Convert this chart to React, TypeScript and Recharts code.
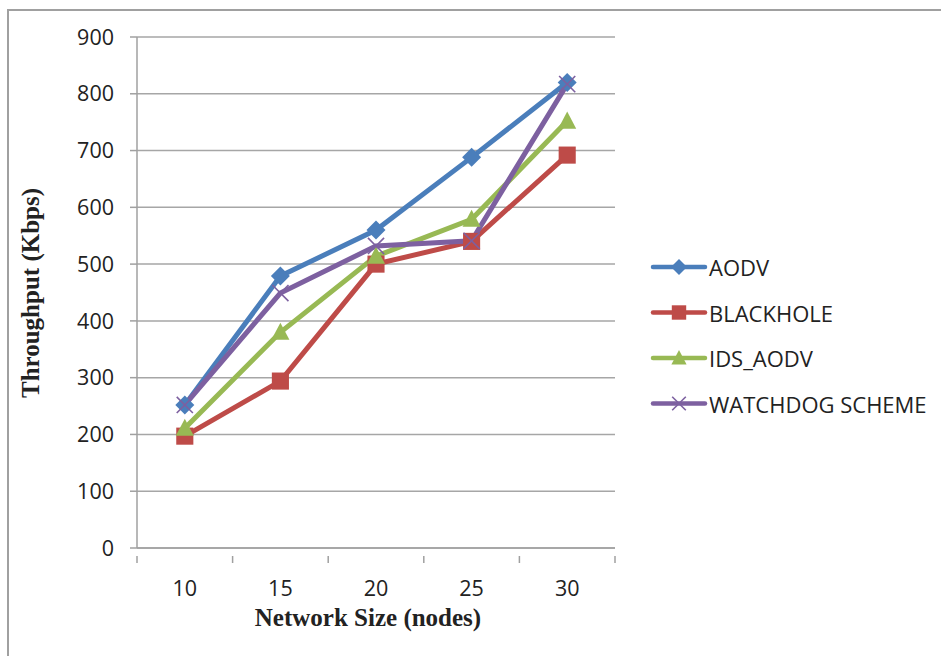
import React from 'react';
import { LineChart, Line, XAxis, YAxis, CartesianGrid, Legend } from 'recharts';

const categories = ['10', '15', '20', '25', '30'];
const aodv = [252, 479, 560, 688, 820];
const blackhole = [197, 294, 500, 540, 692];
const idsAodv = [211, 380, 514, 579, 752];
const watchdog = [252, 449, 532, 541, 817];
const yTicks = [0, 100, 200, 300, 400, 500, 600, 700, 800, 900];

const seriesNames = ['AODV', 'BLACKHOLE', 'IDS_AODV', 'WATCHDOG SCHEME'];
const seriesColors = ['#4a7ebb', '#be4b48', '#98b954', '#7d60a0'];
const seriesShapes = ['diamond', 'square', 'triangle', 'cross'];

const data = categories.map((c, i) => ({
  size: c,
  AODV: aodv[i],
  BLACKHOLE: blackhole[i],
  IDS_AODV: idsAodv[i],
  'WATCHDOG SCHEME': watchdog[i],
}));

const FONT = '"Open Sans", "Noto Sans", sans-serif';
const SERIF = '"Liberation Serif", "Times New Roman", serif';

function Marker({ shape, cx, cy, color, s }: { shape: string; cx: number; cy: number; color: string; s: number }) {
  if (cx == null || cy == null) return null;
  if (shape === 'diamond') {
    return <polygon points={`${cx},${cy - s} ${cx + s},${cy} ${cx},${cy + s} ${cx - s},${cy}`} fill={color} />;
  }
  if (shape === 'square') {
    const h = s * 0.9;
    return <rect x={cx - h} y={cy - h} width={2 * h} height={2 * h} fill={color} />;
  }
  if (shape === 'triangle') {
    return <polygon points={`${cx},${cy - s} ${cx + s * 0.95},${cy + s * 0.8} ${cx - s * 0.95},${cy + s * 0.8}`} fill={color} />;
  }
  const d = s * 0.85;
  return (
    <g stroke={color} strokeWidth={1.6}>
      <line x1={cx - d} y1={cy - d} x2={cx + d} y2={cy + d} />
      <line x1={cx - d} y1={cy + d} x2={cx + d} y2={cy - d} />
    </g>
  );
}

const makeDot = (shape: string, color: string) => (props: any) => (
  <Marker key={`${shape}-${props.index}`} shape={shape} cx={props.cx} cy={props.cy} color={color} s={9.5} />
);

function XTick(props: any) {
  const { x, y, payload, index, visibleTicksCount, width } = props;
  const half = payload && payload.offset ? payload.offset : width / (visibleTicksCount || 5) / 2;
  const isLast = index === (visibleTicksCount || 5) - 1;
  return (
    <g>
      <line x1={x - half} y1={y} x2={x - half} y2={y + 7} stroke="#a0a0a0" strokeWidth={1.5} />
      {isLast && <line x1={x + half} y1={y} x2={x + half} y2={y + 7} stroke="#a0a0a0" strokeWidth={1.5} />}
      <text x={x} y={y + 40} textAnchor="middle" fontFamily={FONT} fontSize={21.5} fill="#222">
        {payload.value}
      </text>
    </g>
  );
}

function LegendContent() {
  return (
    <svg width={300} height={190}>
      {seriesNames.map((n, i) => {
        const cy = 17 + i * 45.5;
        return (
          <g key={n}>
            <line x1={8} y1={cy} x2={60} y2={cy} stroke={seriesColors[i]} strokeWidth={4.5} strokeLinecap="round" />
            <Marker shape={seriesShapes[i]} cx={34} cy={cy} color={seriesColors[i]} s={8} />
            <text x={64} y={cy} dominantBaseline="central" fontFamily={FONT} fontSize={22} fill="#222">
              {n}
            </text>
          </g>
        );
      })}
    </svg>
  );
}

export default function App() {
  return (
    <div style={{ position: 'absolute', left: 0, top: 0, width: 941, height: 656, overflow: 'hidden', background: '#fff' }}>
      <div
        style={{
          position: 'absolute',
          left: 7,
          top: 9,
          width: 980,
          height: 700,
          border: '2px solid #a0a0a0',
          boxSizing: 'border-box',
        }}
      />
      <div style={{ position: 'absolute', left: 0, top: 0 }}>
        <LineChart width={941} height={656} data={data} margin={{ top: 37, right: 326, bottom: 0, left: 0 }}>
          <CartesianGrid vertical={false} stroke="#a6a6a6" strokeWidth={1.5} />
          <XAxis
            dataKey="size"
            scale="band"
            height={108}
            tick={<XTick />}
            tickLine={false}
            axisLine={{ stroke: '#a0a0a0', strokeWidth: 1.5 }}
            interval={0}
            label={{
              content: () => (
                <text x={368} y={626} textAnchor="middle" fontFamily={SERIF} fontWeight="bold" fontSize={25} fill="#222">
                  Network Size (nodes)
                </text>
              ),
            }}
          />
          <YAxis
            width={137}
            domain={[0, 900]}
            ticks={yTicks}
            interval={0}
            tickSize={7}
            tickMargin={16}
            tickLine={{ stroke: '#a0a0a0', strokeWidth: 1.5 }}
            axisLine={{ stroke: '#a0a0a0', strokeWidth: 1.5 }}
            tick={{ fontFamily: FONT, fontSize: 21.5, fill: '#222' }}
            label={{
              content: () => (
                <text
                  x={30}
                  y={293}
                  transform="rotate(-90 30 293)"
                  textAnchor="middle"
                  dominantBaseline="central"
                  fontFamily={SERIF}
                  fontWeight="bold"
                  fontSize={25}
                  fill="#222"
                >
                  Throughput (Kbps)
                </text>
              ),
            }}
          />
          <Legend
            layout="vertical"
            align="center"
            verticalAlign="middle"
            content={<LegendContent />}
            wrapperStyle={{ left: 645, top: 250, width: 300, height: 190 }}
          />
          {seriesNames.map((n, i) => (
            <Line
              key={n}
              dataKey={n}
              stroke={seriesColors[i]}
              strokeWidth={5}
              dot={makeDot(seriesShapes[i], seriesColors[i])}
              activeDot={false}
              isAnimationActive={false}
            />
          ))}
        </LineChart>
      </div>
    </div>
  );
}
